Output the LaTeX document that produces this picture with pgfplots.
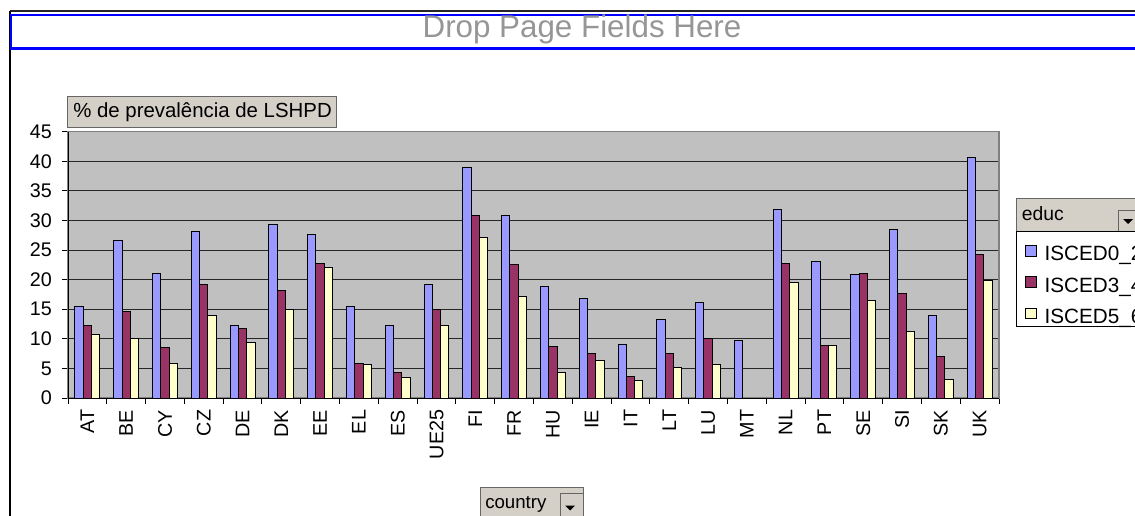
\documentclass[border=0pt]{standalone}
\usepackage{pgfplots}
\pgfplotsset{compat=1.18}
\usepackage{fontspec}
\setmainfont{Liberation Sans}
\definecolor{cblue}{HTML}{9999FF}
\definecolor{cmaroon}{HTML}{993366}
\definecolor{cyellow}{HTML}{FFFFCC}
\definecolor{plotbg}{HTML}{C0C0C0}
\definecolor{btn}{HTML}{D4D0C8}
\definecolor{dropgray}{HTML}{969696}
\definecolor{xlblue}{HTML}{0000FF}
\newcommand{\tfont}{\fontsize{14.8}{17}\selectfont}
\begin{document}
\begin{tikzpicture}
\begin{scope}[x=0.75pt,y=0.75pt]
\path[use as bounding box] (0,0) rectangle (1135,515);
\clip (0,0) rectangle (1135,515);
% outer frame
\draw[black!85, line width=1.1pt] (10,504) -- (1140,504);
\draw[black, line width=1.1pt] (10,504) -- (10,-5);
% page field area
\draw[xlblue, line width=1.7pt] (1140,500) -- (10.8,500) -- (10.8,466.5) -- (1140,466.5);
\node[anchor=base, text=dropgray, font=\fontsize{23.5}{27}\selectfont, inner sep=0pt] at (582,477.5) {Drop Page Fields Here};
% data field button
\draw[fill=btn, draw=black!60, line width=0.75pt] (67.7,387.3) rectangle (336,418);
\node[anchor=base west, font=\fontsize{15.3}{18}\selectfont, inner sep=0pt] at (73,397.7) {\% de prevalência de LSHPD};
% legend header
\draw[fill=btn, draw=black!60, line width=0.75pt] (1016.7,283.3) rectangle (1140,316.7);
\node[anchor=base west, font=\fontsize{14.5}{16}\selectfont, inner sep=0pt] at (1021.7,294.3) {educ};
\draw[fill=btn, draw=black!60, line width=0.75pt] (1118,283.5) rectangle (1140,304.3);
\fill (1123,296) -- (1133,296) -- (1128,291) -- cycle;
% legend body
\draw[fill=white, draw=black, line width=0.75pt] (1016.7,188.3) rectangle (1140,283.3);
% country button
\draw[fill=btn, draw=black!60, line width=0.75pt] (480,-5) rectangle (583,27.3);
\node[anchor=base west, font=\fontsize{14}{16}\selectfont, inner sep=0pt] at (485,6.7) {country};
\draw[fill=btn, draw=black!60, line width=0.75pt] (560,-5) rectangle (583,22);
\fill (565,9.5) -- (575,9.5) -- (570,4.5) -- cycle;
\end{scope}
\clip (0pt,0pt) rectangle (851.25pt,386.25pt);
\begin{axis}[
  at={(51pt,87.75pt)}, anchor=south west,
  scale only axis, width=698.25pt, height=199.7pt,
  xmin=-0.5, xmax=23.5, ymin=0, ymax=45,
  axis background/.style={fill=plotbg},
  axis line style={draw=black!50, line width=1pt},
  xtick pos=bottom, ytick pos=left, tick align=outside,
  tick style={black, line width=0.75pt},
  major tick length=4.5pt, minor tick length=4.5pt,
  ytick={0,5,...,45},
  xtick={0,...,23},
  xticklabels={AT,BE,CY,CZ,DE,DK,EE,EL,ES,UE25,FI,FR,HU,IE,IT,LT,LU,MT,NL,PT,SE,SI,SK,UK},
  major x tick style={draw=none},
  minor xtick={-0.5,0.5,...,23.5},
  x tick label style={rotate=90, anchor=east, font=\tfont, inner sep=4.2pt},
  y tick label style={font=\tfont, inner sep=0pt, xshift=-7.5pt},
  /pgf/number format/assume math mode=true,
  ymajorgrids, major grid style={black!85, line width=0.75pt},
  ybar=0pt, bar width=6.225pt,
  every axis plot post/.append style={legend image code/.code={\draw[##1] (0pt,0pt) rectangle (7.8pt,7.8pt);}},
  legend style={at={(1.0279,0.5745)}, anchor=north west, draw=none, fill=none,
    inner sep=0pt, row sep=8.7pt, column sep=6pt, font=\fontsize{15.5}{18}\selectfont,
    nodes={inner sep=0pt, text height=10pt, text depth=3pt}},
  legend cell align=left,
  clip=false,
]
\addplot[fill=cblue, draw=black, line width=0.75pt] coordinates {
(0,15.4) (1,26.7) (2,21.0) (3,28.2) (4,12.2) (5,29.4) (6,27.7) (7,15.4) (8,12.2) (9,19.1) (10,39.0) (11,30.9)
(12,18.9) (13,16.9) (14,9.0) (15,13.2) (16,16.2) (17,9.8) (18,31.9) (19,23.0) (20,20.8) (21,28.5) (22,13.9) (23,40.7)};
\addplot[fill=cmaroon, draw=black, line width=0.75pt] coordinates {
(0,12.2) (1,14.7) (2,8.5) (3,19.1) (4,11.7) (5,18.1) (6,22.8) (7,5.9) (8,4.3) (9,14.9) (10,30.9) (11,22.6)
(12,8.7) (13,7.5) (14,3.6) (15,7.5) (16,10.0) (18,22.8) (19,8.9) (20,21.0) (21,17.6) (22,7.0) (23,24.3)};
\addplot[fill=cyellow, draw=black, line width=0.75pt] coordinates {
(0,10.7) (1,10.0) (2,5.8) (3,14.0) (4,9.3) (5,14.9) (6,22.1) (7,5.6) (8,3.4) (9,12.2) (10,27.2) (11,17.2)
(12,4.3) (13,6.3) (14,2.9) (15,5.1) (16,5.6) (18,19.6) (19,8.9) (20,16.4) (21,11.3) (22,3.1) (23,19.9)};
\legend{ISCED0\_2,ISCED3\_4,ISCED5\_6}
\draw[black, line width=0.75pt] (rel axis cs:0,1) -- (rel axis cs:0,0) -- (rel axis cs:1,0);
\end{axis}
\end{tikzpicture}
\end{document}
